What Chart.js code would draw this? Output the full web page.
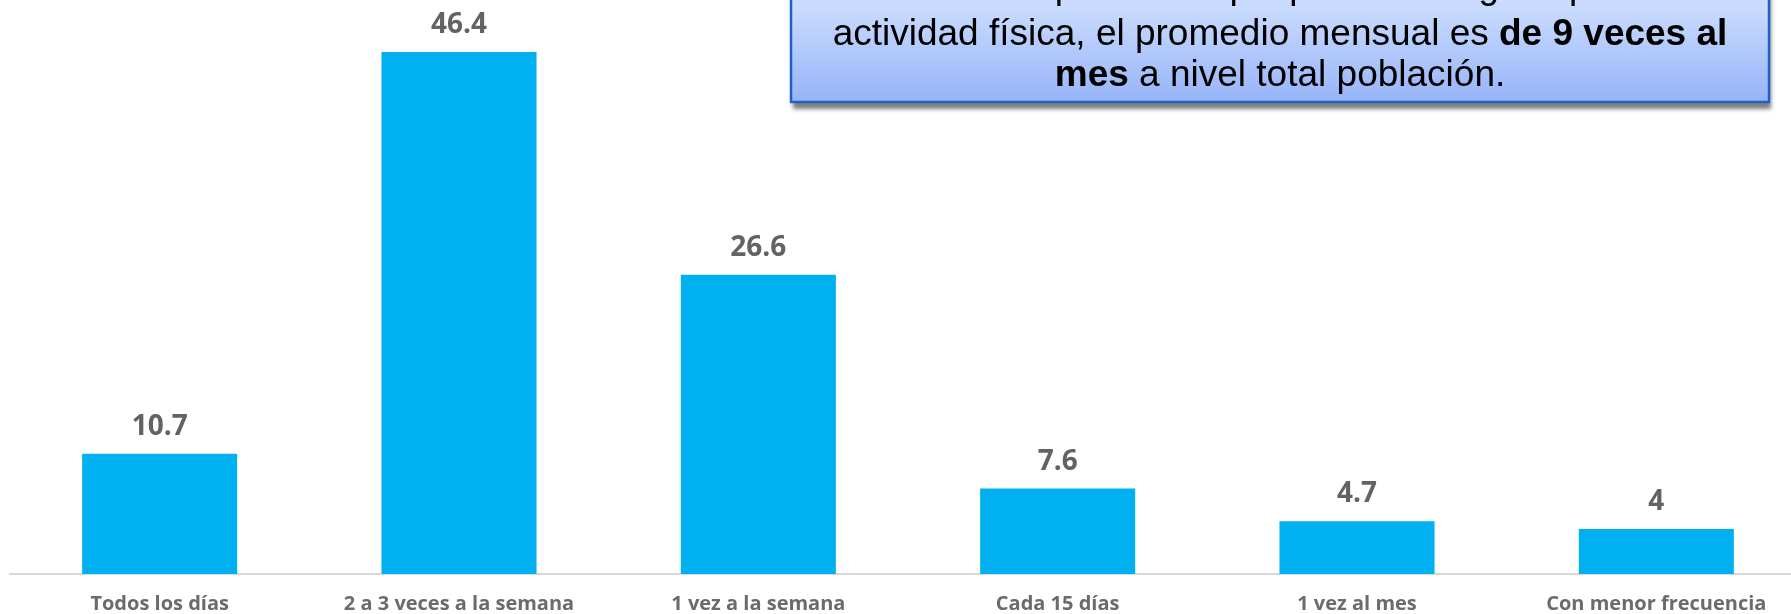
<!DOCTYPE html>
<html>
<head>
<meta charset="utf-8">
<script src="https://cdn.jsdelivr.net/npm/chart.js@4.4.1/dist/chart.umd.min.js"></script>
<style>
  html, body { margin: 0; padding: 0; background: #fff; }
  #wrap { width: 1791px; height: 614px; overflow: hidden; position: relative; }
</style>
</head>
<body>
<div id="wrap">
  <canvas id="chart" width="1810" height="614"></canvas>
</div>
<script>
const categories = ['Todos los días', '2 a 3 veces a la semana', '1 vez a la semana', 'Cada 15 días', '1 vez al mes', 'Con menor frecuencia'];
const values = [10.7, 46.4, 26.6, 7.6, 4.7, 4];

const noteLines = [
  [{ t: 'Entre las personas que practican algún tipo de', b: false }],
  [{ t: 'actividad física, el promedio mensual es ', b: false }, { t: 'de 9 veces al', b: true }],
  [{ t: 'mes', b: true }, { t: ' a nivel total población.', b: false }]
];
const noteBaselines = [-2, 45, 86];

// value labels above each bar
const valueLabels = {
  id: 'valueLabels',
  afterDatasetsDraw(chart) {
    const ctx = chart.ctx;
    const meta = chart.getDatasetMeta(0);
    ctx.save();
    ctx.font = 'bold 28px "Open Sans"';
    ctx.fillStyle = '#636363';
    ctx.textAlign = 'center';
    ctx.textBaseline = 'alphabetic';
    meta.data.forEach((bar, i) => {
      ctx.fillText(String(values[i]), bar.x, bar.y - 19);
    });
    ctx.restore();
  }
};

// the blue note box at the top right
const noteBox = {
  id: 'noteBox',
  afterDraw(chart) {
    const ctx = chart.ctx;
    const left = 791, right = 1769, top = -45, bottom = 102;
    ctx.save();
    ctx.shadowColor = 'rgba(0,0,0,0.5)';
    ctx.shadowOffsetX = 2;
    ctx.shadowOffsetY = 7;
    ctx.shadowBlur = 4;
    const g = ctx.createLinearGradient(0, top, 0, bottom);
    g.addColorStop(0, '#dde8fe');
    g.addColorStop(0.4, '#c6d8fd');
    g.addColorStop(1, '#96b4f8');
    ctx.fillStyle = g;
    ctx.fillRect(left, top, right - left, bottom - top);
    ctx.shadowColor = 'transparent';
    ctx.strokeStyle = '#1f62c6';
    ctx.lineWidth = 2.5;
    ctx.strokeRect(left, top, right - left, bottom - top);

    ctx.fillStyle = '#000';
    ctx.textBaseline = 'alphabetic';
    ctx.textAlign = 'left';
    const cx = (left + right) / 2;
    const size = 37;
    noteLines.forEach((line, li) => {
      let w = 0;
      line.forEach(p => {
        ctx.font = (p.b ? 'bold ' : '') + size + 'px "Liberation Sans", Arial';
        w += ctx.measureText(p.t).width;
      });
      let x = cx - w / 2;
      const y = noteBaselines[li];
      line.forEach(p => {
        ctx.font = (p.b ? 'bold ' : '') + size + 'px "Liberation Sans", Arial';
        ctx.fillText(p.t, x, y);
        x += ctx.measureText(p.t).width;
      });
    });
    ctx.restore();
  }
};

new Chart(document.getElementById('chart'), {
  type: 'bar',
  data: {
    labels: categories,
    datasets: [{
      data: values,
      backgroundColor: '#00b0f0',
      borderWidth: 0,
      categoryPercentage: 1,
      barPercentage: 0.518
    }]
  },
  options: {
    responsive: false,
    animation: false,
    layout: { padding: { left: 10, right: 4, top: 11.5, bottom: 0 } },
    plugins: {
      legend: { display: false },
      tooltip: { enabled: false }
    },
    scales: {
      x: {
        grid: { display: false, drawTicks: false },
        border: { display: true, color: '#d9d9d9', width: 2 },
        ticks: {
          color: '#6b6b6b',
          padding: 18,
          maxRotation: 0,
          autoSkip: false,
          font: { family: '"Open Sans"', size: 20, weight: 'bold' }
        },
        afterFit(scale) { scale.height = 40; }
      },
      y: {
        display: false,
        min: 0,
        max: 50
      }
    }
  },
  plugins: [valueLabels, noteBox]
});
</script>
</body>
</html>
